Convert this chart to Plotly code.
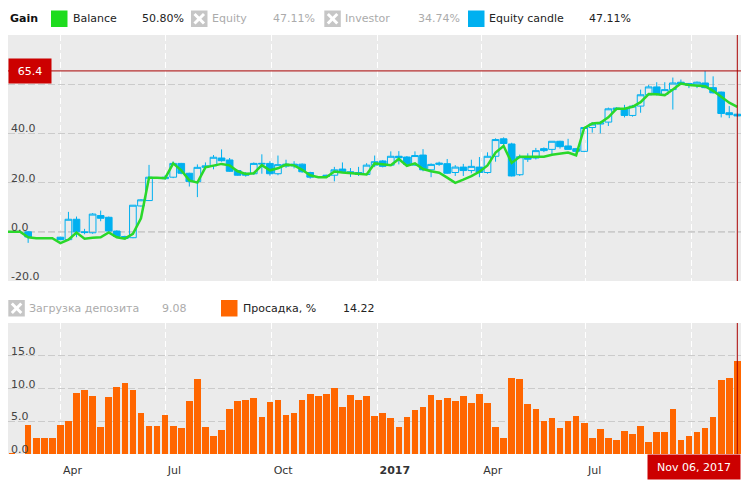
import pandas as pd
import plotly.graph_objects as go

# ---------------- data ----------------
balance_start = "2016-02-08"
drawdown_start = "2016-02-15"
candle_start = "2016-02-29"

balance = [0, 0, 0,
           -2.2, -2.6, -2.6, -2.6, -4.6, -3.2, -0.3, -2.8, -2.4, -2.2,
           -0.3, -2.2, -2.8, -0.8, 5.5, 22.0, 22.0, 21.8, 27.8, 25.0,
           20.9, 20.0, 26.2, 26.8, 27.6, 27.0, 24.6, 23.5, 23.8, 27.1,
           25.0, 25.8, 27.3, 27.0, 25.2, 23.0, 22.2, 22.2, 24.5, 24.1,
           23.8, 23.3, 23.3, 27.8, 27.4, 27.1, 29.6, 26.8, 27.8, 25.5,
           24.6, 24.0, 22.0, 19.9, 21.2, 22.6, 24.4, 27.0, 32.2, 34.9,
           28.0, 30.5, 30.5, 30.5, 30.5, 31.3, 31.6, 32.2, 31.1, 42.2,
           44.0, 44.3, 46.5, 50.0, 50.0, 50.8, 52.7, 56.0, 55.9, 55.5,
           57.8, 60.3, 59.7, 59.5, 59.2, 57.3, 55.0, 52.5, 50.8]

candle_open = [0.0, None, None, None, -2.2, -3.2, 5.1, 0.0, -0.4, 6.6,
               5.9, 0.3, -1.9, -2.4, 10.5, 12.7, None, 21.6, 22.2, 27.8,
               23.8, 20.4, 26.2, 26.8, 30.0, 29.2, 24.9, 23.8, 23.6, 27.5,
               27.8, 23.6, 27.5, 27.5, 27.5, 24.1, None, 23.0, 23.0, 25.5,
               24.4, 24.1, 23.3, 27.1, 28.8, 27.1, 30.7, 30.4, 27.1, 31.2,
               25.2, 27.4, 27.7, 24.1, 26.3, 24.9, 26.3, 24.1, 30.7, 37.8,
               35.7, 23.2, 30.5, 30.0, 33.8, 33.5, 36.8, 34.9, 33.8, 32.7,
               42.4, 43.8, 44.6, 49.7, 50.0, 47.3, 51.1, 55.7, 58.9, 55.9,
               57.8, 60.8, 60.3, 59.7, 60.5, 58.6, 56.8, 48.4, 47.8]
candle_high = [0.3, None, None, None, -2.0, 8.1, 6.2, 1.2, 7.6, 8.6,
               6.2, 0.6, -1.6, 10.8, 13.3, 27.2, None, 23.0, 28.6, 28.0,
               24.0, 27.4, 28.2, 31.2, 33.5, 30.0, 25.2, 24.3, 28.2, 31.5,
               28.7, 31.0, 29.3, 28.7, 27.8, 24.4, None, 23.2, 26.4, 28.2,
               25.9, 26.4, 27.9, 31.0, 29.2, 32.7, 32.8, 30.8, 32.7, 33.6,
               27.8, 28.5, 29.6, 27.1, 27.6, 29.3, 30.4, 32.3, 38.0, 38.4,
               36.2, 31.4, 31.9, 34.1, 34.3, 36.8, 37.0, 37.8, 34.1, 42.6,
               44.6, 44.9, 50.5, 50.6, 51.6, 51.6, 57.8, 59.7, 60.8, 60.8,
               62.7, 61.9, 60.5, 61.1, 65.4, 63.2, 57.0, 51.1, 48.0]
candle_low = [-4.5, None, None, None, -3.4, -3.5, -2.2, -1.0, -0.8, 4.3,
              0.0, -2.2, -3.0, -2.6, 10.3, 12.5, None, 21.2, 21.8, 23.4,
              18.4, 14.1, 25.6, 25.4, 28.5, 24.4, 22.8, 22.4, 23.2, 23.6,
              22.8, 23.0, 26.0, 25.8, 24.0, 21.6, None, 22.3, 20.5, 24.0,
              22.3, 22.7, 23.0, 26.3, 26.2, 26.8, 27.4, 27.0, 26.8, 24.6,
              22.2, 26.8, 23.5, 22.7, 22.7, 23.8, 22.2, 23.6, 28.5, 35.2,
              22.5, 22.7, 28.4, 29.4, 32.4, 31.1, 33.8, 33.5, 30.8, 32.4,
              40.3, 40.0, 43.0, 49.4, 46.5, 46.8, 48.4, 55.5, 55.4, 55.6,
              49.7, 59.8, 58.4, 58.4, 58.3, 56.2, 46.5, 46.2, 46.8]
candle_close = [-2.1, None, None, None, -3.2, 5.1, 0.0, -0.3, 7.2, 5.5,
                0.3, -1.9, -2.7, 10.8, 13.0, 22.2, None, 22.2, 27.8, 23.8,
                20.4, 26.2, 26.8, 30.3, 28.9, 24.6, 23.0, 23.0, 27.8, 27.8,
                23.6, 27.3, 26.7, 26.8, 24.4, 22.2, None, 22.5, 25.2, 24.4,
                23.8, 23.3, 27.1, 28.5, 26.6, 30.7, 30.1, 27.4, 31.0, 25.2,
                27.4, 27.9, 23.8, 26.3, 24.9, 26.6, 24.1, 30.7, 37.5, 35.9,
                22.7, 30.5, 29.5, 33.0, 33.0, 36.8, 34.6, 33.5, 32.7, 42.4,
                43.8, 44.3, 50.0, 50.3, 47.3, 51.1, 55.7, 58.9, 55.9, 57.8,
                60.5, 60.0, 59.5, 60.8, 58.6, 56.5, 48.1, 47.6, 47.11]

drawdown = [0.15, 0,
            4.5, 2.4, 2.4, 2.4, 4.5, 5.0, 9.3, 9.8, 8.9, 4.1,
            8.7, 10.3, 10.9, 9.8, 6.2, 4.2, 4.2, 5.9, 4.2, 3.9,
            8.1, 11.5, 4.1, 2.8, 3.6, 6.9, 8.1, 8.2, 8.6, 5.6,
            7.9, 8.2, 5.9, 6.2, 8.2, 9.2, 8.9, 9.2, 10.1, 7.2,
            9.0, 8.2, 8.9, 5.8, 6.2, 5.5, 4.1, 5.6, 6.7, 7.2,
            9.0, 8.2, 8.6, 8.1, 8.9, 7.8, 9.2, 7.8, 4.1, 2.4,
            11.6, 11.5, 7.6, 6.9, 5.0, 5.5, 3.9, 5.0, 5.8, 4.8,
            2.5, 3.8, 2.4, 2.1, 3.5, 3.1, 4.2, 1.9, 3.3, 3.3,
            6.9, 2.1, 2.8, 3.3, 3.9, 5.6, 11.3, 11.6, 14.22]

month_ticks = ["2016-04-01", "2016-07-01", "2016-10-01", "2017-01-01",
               "2017-04-01", "2017-07-01", "2017-10-01"]
month_labels = ["Apr", "Jul", "Oct", "<b>2017</b>", "Apr", "Jul", ""]

top_ticks = [-20, 0, 20, 40, 60, 80]
top_labels = ["-20.0", "0.0", "20.0", "40.0", "", ""]
bot_ticks = [0, 5, 10, 15, 20]
bot_labels = ["0.0", "5.0", "10.0", "15.0", ""]

legend_top = [("Balance", "50.80%"), ("Equity", "47.11%"),
              ("Investor", "34.74%"), ("Equity candle", "47.11%")]
legend_bot = [("Загрузка депозита", "9.08"), ("Просадка, %", "14.22")]

x_range = ["2016-02-15", "2017-11-12 17:00"]

# ---------------- derived ----------------
week_ms = 7 * 86400000
balance_x = pd.date_range(balance_start, periods=len(balance), freq="7D")
candle_x = pd.date_range(candle_start, periods=len(candle_close), freq="7D")
dd_x = pd.date_range(drawdown_start, periods=len(drawdown), freq="7D")
last_week = candle_x[-1]
cross_x = last_week + pd.Timedelta(days=3.5)
max_high = max(v for v in candle_high if v is not None)

W, H = 746, 481
def PX(x): return x / W
def PY(y): return 1 - y / H

FONT = "DejaVu Sans"
BG = "#ebebeb"
GREEN = "#2ad82a"
BLUE = "#00b0f0"
ORANGE = "#ff6600"
RED = "#cc0000"
GRID = "#cbcbcb"

fig = go.Figure()

period = dict(xperiod=week_ms, xperiod0="2016-02-15", xperiodalignment="middle")

fig.add_trace(go.Scatter(x=balance_x, y=balance, mode="lines",
                         line=dict(color=GREEN, width=2.5),
                         xaxis="x", yaxis="y", hoverinfo="skip", **period))
fig.add_trace(go.Candlestick(x=candle_x, open=candle_open, high=candle_high,
                             low=candle_low, close=candle_close,
                             increasing=dict(line=dict(color=BLUE, width=1),
                                             fillcolor="rgba(0,0,0,0)"),
                             decreasing=dict(line=dict(color=BLUE, width=1),
                                             fillcolor=BLUE),
                             whiskerwidth=0,
                             xaxis="x", yaxis="y", **period))
fig.add_trace(go.Bar(x=dd_x, y=drawdown, marker=dict(color=ORANGE, line=dict(width=0)),
                     width=5.8 * 86400000, xaxis="x2", yaxis="y2", **period))

xcommon = dict(type="date", range=x_range, domain=[PX(8), PX(741)],
               tickmode="array", tickvals=month_ticks, showgrid=True,
               gridcolor="white", griddash="6px,3px", gridwidth=1,
               zeroline=False, showline=False, ticks="", fixedrange=True)

ycommon = dict(tickmode="array", showticklabels=False, showgrid=True,
               gridcolor=GRID, griddash="7px,3px", zeroline=False, ticks="")

fig.update_layout(
    width=W, height=H,
    margin=dict(l=0, r=0, t=0, b=0),
    paper_bgcolor="white", plot_bgcolor=BG,
    showlegend=False,
    boxgap=0.17, boxgroupgap=0,
    font=dict(family=FONT, size=11, color="#333"),
    xaxis=dict(**xcommon, anchor="y", showticklabels=False,
               rangeslider=dict(visible=False)),
    yaxis=dict(**ycommon, domain=[PY(281), PY(35)], range=[-20, 80],
               tickvals=top_ticks),
    xaxis2=dict(**xcommon, anchor="y2", matches="x", ticktext=month_labels,
                ticklabelposition="outside right", ticklabelstandoff=8,
                ticklabelshift=2,
                tickfont=dict(family=FONT, size=11, color="#333")),
    yaxis2=dict(**ycommon, domain=[PY(454), PY(323)], range=[0, 20],
                tickvals=bot_ticks),
    bargap=0,
)

shapes = []
annotations = []

# y tick labels, drawn inside the plot just above their gridlines
for yref, vals, labels in (("y", top_ticks, top_labels), ("y2", bot_ticks, bot_labels)):
    for v, lab in zip(vals, labels):
        if lab:
            annotations.append(dict(xref="paper", yref=yref, x=PX(10), y=v,
                                    xanchor="left", yanchor="bottom", yshift=-3,
                                    text=lab, showarrow=False, borderpad=0,
                                    font=dict(family=FONT, size=11, color="#444")))

# zero line (darker dashed)
shapes.append(dict(type="line", xref="x domain", x0=0, x1=1, yref="y", y0=0, y1=0,
                   line=dict(color="#999999", width=1, dash="7px,3px"), layer="below"))
# max level line
shapes.append(dict(type="line", xref="x domain", x0=0, x1=1, yref="y",
                   y0=max_high, y1=max_high, line=dict(color="#aa0000", width=1)))
# crosshair vertical lines
for yr in ("y domain", "y2 domain"):
    shapes.append(dict(type="line", xref="x", x0=cross_x, x1=cross_x, yref=yr, y0=0, y1=1,
                       line=dict(color="#aa0000", width=1)))

annotations.append(dict(xref="paper", yref="y", x=PX(8), y=max_high, xanchor="left",
                        yanchor="middle", text=f"{max_high:.1f}", showarrow=False,
                        bgcolor=RED, width=38, height=20, borderpad=2,
                        font=dict(family=FONT, size=11, color="white")))
annotations.append(dict(xref="paper", yref="paper", x=PX(741), y=PY(454),
                        xanchor="right", yanchor="top",
                        text=last_week.strftime("%b %d, %Y"), showarrow=False,
                        bgcolor=RED, width=88, height=20, borderpad=2,
                        font=dict(family=FONT, size=11, color="white")))

def text(x, y, s, color="#222", bold=False):
    annotations.append(dict(xref="paper", yref="paper", x=PX(x), y=PY(y),
                            xanchor="left", yanchor="middle", showarrow=False,
                            text=f"<b>{s}</b>" if bold else s, borderpad=0,
                            font=dict(family=FONT, size=11, color=color)))

def square(x0, y0, color):
    shapes.append(dict(type="rect", xref="paper", yref="paper",
                       x0=PX(x0), x1=PX(x0 + 16.5), y0=PY(y0 + 16.5), y1=PY(y0),
                       fillcolor=color, line=dict(width=0)))

def xicon(x0, y0):
    square(x0, y0, "#c6c6c6")
    for a, b in (((3.5, 3.5), (13, 13)), ((3.5, 13), (13, 3.5))):
        shapes.append(dict(type="line", xref="paper", yref="paper",
                           x0=PX(x0 + a[0]), y0=PY(y0 + a[1]),
                           x1=PX(x0 + b[0]), y1=PY(y0 + b[1]),
                           line=dict(color="white", width=3)))

GREY_TXT = "#ababab"
ty = 18.5
text(8.5, ty, "Gain", "#111", bold=True)
square(51, 10.5, "#1edc1e")
text(71.5, ty, legend_top[0][0])
text(140.5, ty, legend_top[0][1])
xicon(191, 10.5)
text(211, ty, legend_top[1][0], GREY_TXT)
text(272, ty, legend_top[1][1], GREY_TXT)
xicon(324.3, 10.5)
text(344, ty, legend_top[2][0], GREY_TXT)
text(417, ty, legend_top[2][1], GREY_TXT)
square(468, 10.5, BLUE)
text(488, ty, legend_top[3][0])
text(588, ty, legend_top[3][1])

by = 308
xicon(8.3, 300)
text(28, by, legend_bot[0][0], GREY_TXT)
text(160.5, by, legend_bot[0][1], GREY_TXT)
square(221, 300, ORANGE)
text(241.5, by, legend_bot[1][0])
text(342, by, legend_bot[1][1])

fig.update_layout(shapes=shapes, annotations=annotations)
fig.write_html("out.html", config={"displayModeBar": False},
               post_script="document.body.style.margin='0px';")
